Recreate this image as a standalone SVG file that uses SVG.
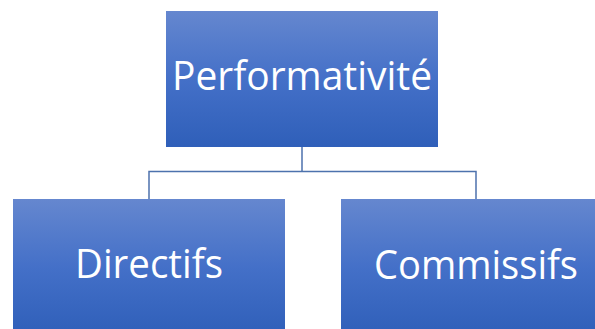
<svg xmlns="http://www.w3.org/2000/svg" width="595" height="329" viewBox="0 0 595 329">
<defs>
<linearGradient id="g" x1="0" y1="0" x2="0" y2="1">
<stop offset="0" stop-color="#6587cf"/>
<stop offset="0.5" stop-color="#4470c8"/>
<stop offset="1" stop-color="#2f5fb9"/>
</linearGradient>
</defs>
<style>
.box{fill:url(#g);}
.lbl{fill:#ffffff;font-family:"Open Sans","Noto Sans",sans-serif;font-size:40px;}
.conn{fill:none;stroke:#4d72ad;stroke-width:1.5;}
</style>
<rect width="595" height="329" fill="#ffffff"/>
<g id="connectors">
<path class="conn" d="M302,147 V171.5 M149,199 V171.5 H476 V199"/>
</g>
<g id="performativite">
<rect class="box" x="166" y="11" width="272" height="136"/>
<text class="lbl" x="172" y="90" textLength="260" lengthAdjust="spacingAndGlyphs">Performativité</text>
</g>
<g id="directifs">
<rect class="box" x="13" y="199" width="272" height="136"/>
<text class="lbl" x="75" y="278" textLength="148" lengthAdjust="spacingAndGlyphs">Directifs</text>
</g>
<g id="commissifs">
<rect class="box" x="341" y="199" width="272" height="136"/>
<text class="lbl" x="374" y="279" textLength="204" lengthAdjust="spacingAndGlyphs">Commissifs</text>
</g>
</svg>
